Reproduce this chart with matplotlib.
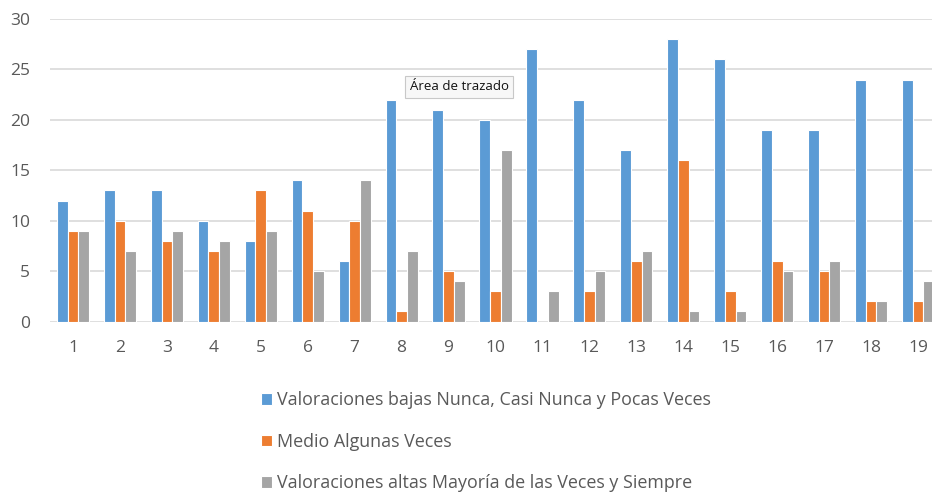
import numpy as np
import matplotlib.pyplot as plt

# Data
categories = [str(i) for i in range(1, 20)]
bajas = [12, 13, 13, 10, 8, 14, 6, 22, 21, 20, 27, 22, 17, 28, 26, 19, 19, 24, 24]
medio = [9, 10, 8, 7, 13, 11, 10, 1, 5, 3, 0, 3, 6, 16, 3, 6, 5, 2, 2]
altas = [9, 7, 9, 8, 9, 5, 14, 7, 4, 17, 3, 5, 7, 1, 1, 5, 6, 2, 4]
labels = ['Valoraciones bajas Nunca, Casi Nunca y Pocas Veces',
          'Medio Algunas Veces',
          'Valoraciones altas Mayoría de las Veces y Siempre']
colors = ['#5B9BD5', '#ED7D31', '#A5A5A5']

plt.rcParams['font.family'] = ['Open Sans', 'DejaVu Sans']

W, H = 932, 493
fig = plt.figure(figsize=(W / 100, H / 100), dpi=100)
# axes extend a bit past the right edge, as in the cropped original
left, right, bottom, top = 49.5, 941.5, 321.5, 19
ax = fig.add_axes([left / W, 1 - bottom / H, (right - left) / W, (bottom - top) / H])

x = np.arange(len(categories))
w = 0.228
for i, (vals, lab, c) in enumerate(zip([bajas, medio, altas], labels, colors)):
    ax.bar(x + (i - 1) * w, vals, width=w, color=c, edgecolor='white',
           linewidth=0.8, label=lab, zorder=3)

ax.set_xlim(-0.5, len(categories) - 0.5)
ax.set_ylim(0, 30)
ax.set_yticks(range(0, 31, 5))
ax.set_xticks(x)
ax.set_xticklabels(categories)
ax.grid(axis='y', color='#d9d9d9', linewidth=1.2, zorder=0)
for s in ax.spines.values():
    s.set_visible(False)
ax.tick_params(axis='both', length=0, labelsize=12.5, colors='#595959')
ax.tick_params(axis='x', pad=13)
ax.tick_params(axis='y', pad=14)

handles, labs = ax.get_legend_handles_labels()
fig.legend(handles, labs, loc='upper left', bbox_to_anchor=(254 / W, 1 - 384 / H),
           frameon=False, fontsize=12.9, labelcolor='#595959',
           handlelength=0.6, handleheight=0.6, handletextpad=0.3,
           labelspacing=1.32, borderaxespad=0)

# tooltip shown in the original screenshot
fig.text(459 / W, 1 - 87 / H, 'Área de trazado', ha='center', va='center',
         fontsize=9.5, color='#111111',
         bbox=dict(boxstyle='square,pad=0.35', facecolor='#f7f7f7',
                   edgecolor='#c8c8c8', linewidth=0.8))

fig.savefig('out.png', dpi=100)
